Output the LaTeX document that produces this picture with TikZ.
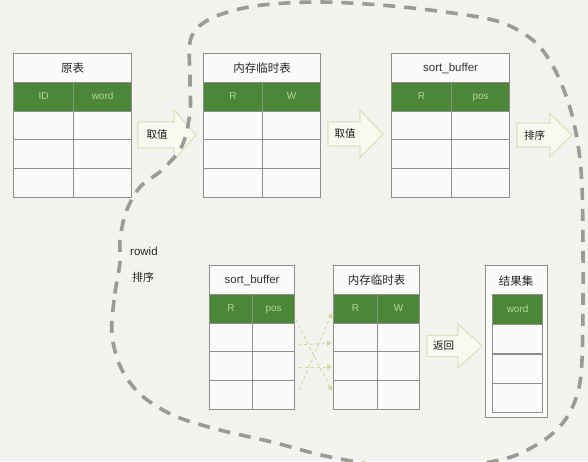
\documentclass[tikz,border=0pt]{standalone}
\usepackage{fontspec}
\setmainfont{Liberation Sans}
\newfontfamily\cjk{Noto Sans CJK SC}
\usetikzlibrary{arrows.meta,calc}
\definecolor{bg}{HTML}{F3F2EE}
\definecolor{hdr}{HTML}{4C8738}
\definecolor{hdrtxt}{HTML}{B4D896}
\definecolor{grid}{HTML}{8E8E8E}
\definecolor{arrfill}{HTML}{F8FAF0}
\definecolor{arrline}{HTML}{D8E4C0}
\definecolor{loop}{HTML}{9A9A98}
\definecolor{lnk}{HTML}{C8DC9A}
\tikzset{
  cellbox/.style={draw=grid, line width=1.2pt, fill=white!60!bg, inner sep=0pt, anchor=north west},
  hdrbox/.style={draw=grid, line width=1.2pt, fill=hdr, inner sep=0pt, anchor=north west, text=hdrtxt,
    font=\fontsize{10}{12}\selectfont, text height=7.5pt, text depth=2pt},
  titletxt/.style={font=\cjk\fontsize{11.5}{13}\selectfont, text=black!85},
  lattitle/.style={font=\fontsize{11.5}{13}\selectfont, text=black!80},
  blockarrow/.style={draw=arrline, line width=1.2pt, fill=arrfill},
  arrtxt/.style={font=\cjk\fontsize{10.5}{12}\selectfont, text=black!90, inner sep=0pt},
  loopline/.style={draw=loop, line width=3.6pt, dash pattern=on 12pt off 9pt},
  linkarrow/.style={draw=lnk, line width=1pt, dashed, -{Triangle[length=5pt,width=5pt]}},
}
% #1 prefix, #2 x left, #3 x div, #4 x right, #5 y top, #6 title, #7 h1, #8 h2, #9 title style
\newcommand\mktable[9]{%
  \pgfmathsetmacro\wa{#3-#2}\pgfmathsetmacro\wb{#4-#3}%
  \node[cellbox, minimum width=#4pt-#2pt, minimum height=29pt] (#1t) at (#2,#5) {};
  \node[#9] (#1tt) at ($(#1t.center)$) {#6};
  \node[hdrbox, minimum width=\wa pt, minimum height=28.5pt] (#1h1) at (#2,#5+29) {#7};
  \node[hdrbox, minimum width=\wb pt, minimum height=28.5pt] (#1h2) at (#3,#5+29) {#8};
  \foreach \r in {0,1,2}{%
    \node[cellbox, minimum width=\wa pt, minimum height=28.7pt] (#1a\r) at (#2,#5+57.5+28.7*\r) {};
    \node[cellbox, minimum width=\wb pt, minimum height=28.7pt] (#1b\r) at (#3,#5+57.5+28.7*\r) {};
  }%
}
% #1 name, #2 x body left, #3 x head start, #4 x tip, #5 y center, #6 half body, #7 half head, #8 text
\newcommand\mkarrow[8]{%
  \draw[blockarrow] (#2,#5-#6) -- (#3,#5-#6) -- (#3,#5-#7) -- (#4,#5) -- (#3,#5+#7) -- (#3,#5+#6) -- (#2,#5+#6) -- cycle;
  \node[arrtxt] (#1) at ({(#2+#3)/2+1},#5) {#8};
}
\begin{document}
\begin{tikzpicture}[x=1pt,y=-1pt]
\fill[bg] (0,0) rectangle (588,461);
\useasboundingbox (0,0) rectangle (588,461);

% top row tables
\mktable{A}{13}{73}{131}{53}{原表}{ID}{word}{titletxt}
\mktable{B}{203}{262}{320}{53}{内存临时表}{R}{W}{titletxt}
\mktable{C}{391}{451}{509}{53}{sort\_buffer}{R}{pos}{lattitle}

% bottom row tables
\mktable{D}{209}{252}{294}{265}{sort\_buffer}{R}{pos}{lattitle}
\mktable{E}{333}{377}{419}{265}{内存临时表}{R}{W}{titletxt}

% result set
\node[cellbox, minimum width=62pt, minimum height=152pt] (F) at (485,265) {};
\node[titletxt] (Ft) at (516,281) {结果集};
\node[hdrbox, minimum width=50pt, minimum height=30pt] (Fh) at (492,294) {word};
\foreach \r in {0,1,2}{
  \node[cellbox, minimum width=50pt, minimum height=29.3pt] (Fr\r) at (492,324+29.3*\r) {};
}

% block arrows
\mkarrow{a1}{138}{174}{196}{135}{13}{25}{取值}
\mkarrow{a2}{328}{360}{383}{134}{12}{23.5}{取值}
\mkarrow{a3}{517}{550}{572}{135}{12}{21.5}{排序}
\mkarrow{a4}{427}{458}{482}{346}{10.5}{22}{返回}

% dashed link arrows between bottom sort_buffer and memory table
\coordinate (s1) at (296,320);
\coordinate (s2) at (299,390);
\coordinate (s3) at (299,367);
\coordinate (s4) at (298,345);
\coordinate (e1) at (332,391);
\coordinate (e2) at (332,313);
\coordinate (e3) at (332,367);
\coordinate (e4) at (332,343);
\draw[linkarrow] (s1) -- (e1);
\draw[linkarrow] (s2) -- (e2);
\draw[linkarrow] (s3) -- (e3);
\draw[linkarrow] (s4) -- (e4);

% rowid label
\node[font=\fontsize{11.5}{13}\selectfont, text=black!85, anchor=west, inner sep=0pt] (rw) at (130,251) {rowid};
\node[font=\cjk\fontsize{11}{13}\selectfont, text=black!85, anchor=west, inner sep=0pt] (rs) at (132,277) {排序};

% big dashed loop
\draw[loopline] plot[smooth cycle, tension=0.55] coordinates {
  (120,262) (114,300) (112,335) (121,368) (141,395) (175,416) (220,430) (272,442)
  (335,458) (420,470) (500,460) (538,444) (562,424) (576,398) (582,360) (583,250)
  (581,170) (572,115) (556,72) (535,42) (500,22) (445,12) (380,5) (315,2) (255,6)
  (212,18) (191,38) (190,80) (190,112) (182,146) (162,170) (140,187) (126,212) (120,240)
};
\end{tikzpicture}
\end{document}
